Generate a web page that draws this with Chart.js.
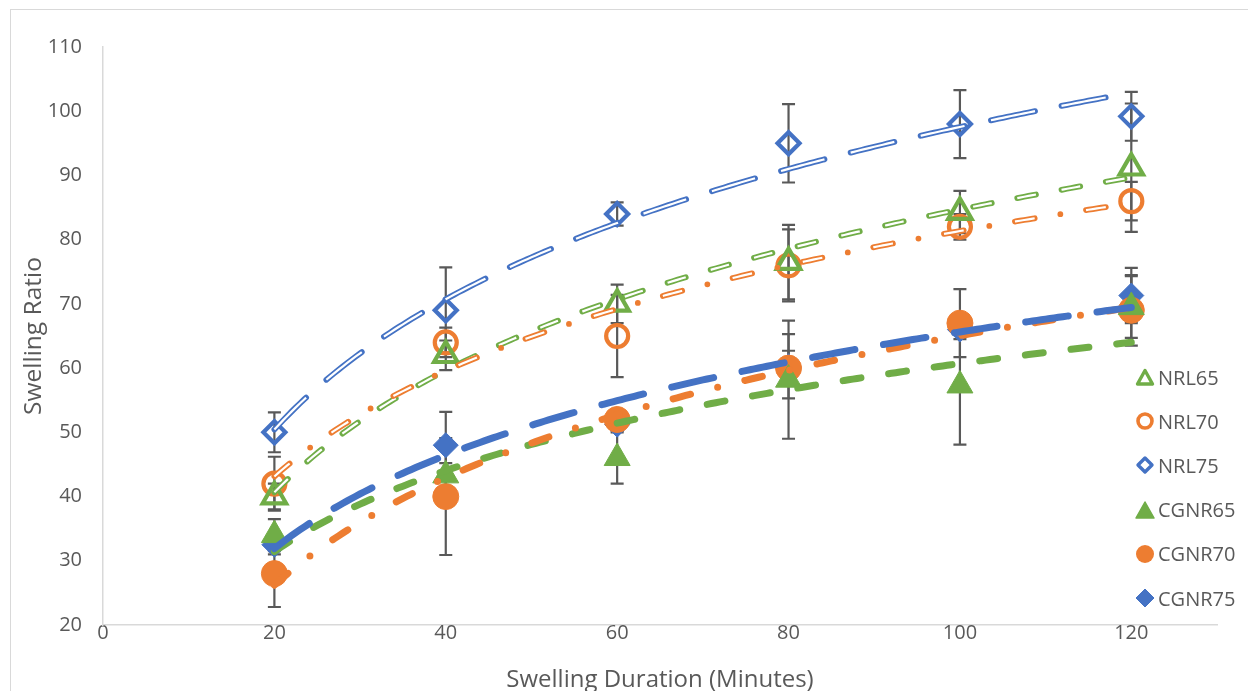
<!DOCTYPE html>
<html><head><meta charset="utf-8">
<script src="https://cdn.jsdelivr.net/npm/chart.js@4.4.1/dist/chart.umd.min.js"></script>
<style>
html,body{margin:0;padding:0;background:#fff;}
#wrap{position:relative;width:1248px;height:691px;overflow:hidden;}
#frame{position:absolute;left:10px;top:9px;width:1400px;height:900px;border:1px solid #d9d9d9;pointer-events:none;}
#legend{position:absolute;left:1135px;top:355px;font-family:'Open Sans',sans-serif;font-size:20px;color:#595959;}
.item{height:44.2px;display:flex;align-items:center;white-space:nowrap;}
.item svg{margin-right:3px;flex:none}
</style></head>
<body><div id="wrap"><canvas id="c" width="1248" height="691" style="width:1248px;height:691px"></canvas><div id="frame"></div><div id="legend"></div></div>
<script>
// ---- data ----
const xValues = [20, 40, 60, 80, 100, 120];
const seriesNames = ['NRL65', 'NRL70', 'NRL75', 'CGNR65', 'CGNR70', 'CGNR75'];
const NRL65 = [40, 62, 70, 76.5, 84.3, 91.2];
const NRL70 = [42, 64, 65, 76, 82, 86];
const NRL75 = [50, 69, 84, 95, 98, 99.2];
const CGNR65 = [34, 43.3, 46, 58.2, 57.3, 69.5];
const CGNR70 = [28, 40, 52, 60, 67, 69];
const CGNR75 = [32.5, 48, 51.2, 60.3, 66, 71.3];
const NRL65_ERR = [2, 2.3, 3, 5.8, 3.3, 10];
const NRL70_ERR = [4.2, 2.3, 6.4, 5.6, 2, 3];
const NRL75_ERR = [3.1, 6.7, 1.8, 6.1, 5.3, 3.8];
const CGNR65_ERR = [2.5, 1.9, 4, 9.2, 9.2, 4.8];
const CGNR70_ERR = [5.2, 9.1, 1.2, 2.7, 5.3, 5.5];
const CGNR75_ERR = [1.5, 5.2, 1, 5, 1.5, 4.3];
const yTicks = [20, 30, 40, 50, 60, 70, 80, 90, 100, 110];
const xTicks = [0, 20, 40, 60, 80, 100, 120];

// ---- styles ----
const GREEN = '#70AD47', ORANGE = '#ED7D31', BLUE = '#4472C4', TEXT = '#595959';
const FONT = "'Open Sans', sans-serif";
const series = [
  {name: 'NRL65', v: NRL65, e: NRL65_ERR, c: GREEN, shape: 'triangle', open: true, r: 13.5,
   trend: {double: true, dash: [19, 26]}},
  {name: 'NRL70', v: NRL70, e: NRL70_ERR, c: ORANGE, shape: 'circle', open: true, r: 11,
   trend: {double: true, dash: [20, 26, 0, 26]}},
  {name: 'NRL75', v: NRL75, e: NRL75_ERR, c: BLUE, shape: 'rectRot', open: true, r: 11,
   trend: {double: true, dash: [45, 27]}},
  {name: 'CGNR65', v: CGNR65, e: CGNR65_ERR, c: GREEN, shape: 'triangle', open: false, r: 15,
   trend: {double: false, dash: [18, 28]}},
  {name: 'CGNR70', v: CGNR70, e: CGNR70_ERR, c: ORANGE, shape: 'circle', open: false, r: 13,
   trend: {double: false, dash: [18, 28, 0, 28]}},
  {name: 'CGNR75', v: CGNR75, e: CGNR75_ERR, c: BLUE, shape: 'rectRot', open: false, r: 12.5,
   trend: {double: false, dash: [43, 29]}},
];

// logarithmic least-squares trendline (as Excel), from the data arrays
function logFit(xs, ys) {
  const lx = xs.map(Math.log), n = xs.length;
  const mx = lx.reduce((a, b) => a + b, 0) / n, my = ys.reduce((a, b) => a + b, 0) / n;
  let sxy = 0, sxx = 0;
  for (let i = 0; i < n; i++) { sxy += (lx[i] - mx) * (ys[i] - my); sxx += (lx[i] - mx) ** 2; }
  const b = sxy / sxx, a = my - b * mx;
  const pts = [];
  for (let x = xs[0]; x <= xs[n - 1] + 1e-9; x += 0.5) pts.push({x, y: a + b * Math.log(x)});
  return pts;
}

const datasets = [];
series.forEach((s, k) => {
  datasets.push({
    label: s.name, type: 'scatter', order: 100,
    data: xValues.map((x, i) => ({x, y: s.v[i]})),
    pointStyle: s.shape, pointRadius: s.r, pointHoverRadius: s.r,
    backgroundColor: s.open ? 'rgba(0,0,0,0)' : s.c,
    borderColor: s.c, borderWidth: s.open ? 4.2 : 1, showLine: false
  });
});
series.forEach((s, k) => {
  const pts = logFit(xValues, s.v);
  const base = 60 - 10 * k;
  datasets.push({
    label: s.name + ' trend', type: 'line', order: base, data: pts,
    borderColor: s.c, borderWidth: s.trend.double ? 5.8 : 7, borderDash: s.trend.dash,
    borderCapStyle: 'round', borderJoinStyle: 'round', pointRadius: 0, fill: false, tension: 0
  });
  if (s.trend.double) {
    datasets.push({
      label: s.name + ' trend inner', type: 'line', order: base - 1, data: pts,
      borderColor: '#ffffff', borderWidth: 2.2, borderDash: s.trend.dash,
      borderCapStyle: 'butt', borderJoinStyle: 'round', pointRadius: 0, fill: false, tension: 0
    });
  }
});

const errPlugin = {
  id: 'errbars',
  beforeDatasetsDraw(chart) {
    const ctx = chart.ctx, xs = chart.scales.x, ys = chart.scales.y;
    ctx.save();
    ctx.strokeStyle = TEXT; ctx.lineWidth = 2.2; ctx.lineCap = 'butt';
    series.forEach(s => {
      s.v.forEach((v, i) => {
        const px = xs.getPixelForValue(xValues[i]);
        const top = ys.getPixelForValue(v + s.e[i]), bot = ys.getPixelForValue(v - s.e[i]);
        ctx.beginPath();
        ctx.moveTo(px, top); ctx.lineTo(px, bot);
        ctx.moveTo(px - 6.5, top); ctx.lineTo(px + 6.5, top);
        ctx.moveTo(px - 6.5, bot); ctx.lineTo(px + 6.5, bot);
        ctx.stroke();
      });
    });
    ctx.restore();
  }
};

new Chart(document.getElementById('c'), {
  data: {datasets},
  plugins: [errPlugin],
  options: {
    responsive: false, animation: false, events: [],
    layout: {padding: {left: 0, right: 31, top: 47, bottom: 0}},
    plugins: {legend: {display: false}, tooltip: {enabled: false}},
    scales: {
      x: {
        type: 'linear', min: 0, max: 130,
        afterBuildTicks: sc => { sc.ticks = xTicks.map(v => ({value: v})); },
        afterFit: sc => { sc.height = 66; },
        grid: {display: false, drawTicks: false},
        border: {display: true, color: '#D9D9D9', width: 1.5},
        ticks: {color: TEXT, font: {family: FONT, size: 20}, padding: -4, maxRotation: 0},
        title: {display: true, text: 'Swelling Duration (Minutes)', color: TEXT,
                font: {family: FONT, size: 24, lineHeight: 0.9}, padding: {top: 0, bottom: 0}}
      },
      y: {
        type: 'linear', min: 20, max: 110,
        afterBuildTicks: sc => { sc.ticks = yTicks.map(v => ({value: v})); },
        afterFit: sc => { sc.width = 103; },
        grid: {display: false, drawTicks: false},
        border: {display: true, color: '#D9D9D9', width: 1.5},
        ticks: {color: TEXT, font: {family: FONT, size: 20}, padding: 21},
        title: {display: true, text: 'Swelling Ratio', color: TEXT,
                font: {family: FONT, size: 24.5, lineHeight: 1.2}, padding: {top: 19, bottom: 0}}
      }
    }
  }
});

// HTML legend
const svgFor = s => {
  const c = s.c;
  if (s.shape === 'triangle') {
    return s.open
      ? `<svg width="20" height="20"><polygon points="10,3.5 17.5,17 2.5,17" fill="none" stroke="${c}" stroke-width="3.4" stroke-linejoin="round"/></svg>`
      : `<svg width="20" height="20"><polygon points="10,2 19,18 1,18" fill="${c}" stroke="${c}" stroke-width="1.5" stroke-linejoin="round"/></svg>`;
  }
  if (s.shape === 'circle') {
    return s.open
      ? `<svg width="20" height="20"><circle cx="10" cy="10" r="7" fill="none" stroke="${c}" stroke-width="3.6"/></svg>`
      : `<svg width="20" height="20"><circle cx="10" cy="10" r="9" fill="${c}"/></svg>`;
  }
  return s.open
    ? `<svg width="20" height="20"><polygon points="10,3 17,10 10,17 3,10" fill="none" stroke="${c}" stroke-width="3.4" stroke-linejoin="round"/></svg>`
    : `<svg width="20" height="20"><polygon points="10,1 19,10 10,19 1,10" fill="${c}" stroke="${c}" stroke-width="1" stroke-linejoin="round"/></svg>`;
};
document.getElementById('legend').innerHTML = series.map(s =>
  `<div class="item">${svgFor(s)}<span>${s.name}</span></div>`).join('');
</script>
</body></html>
